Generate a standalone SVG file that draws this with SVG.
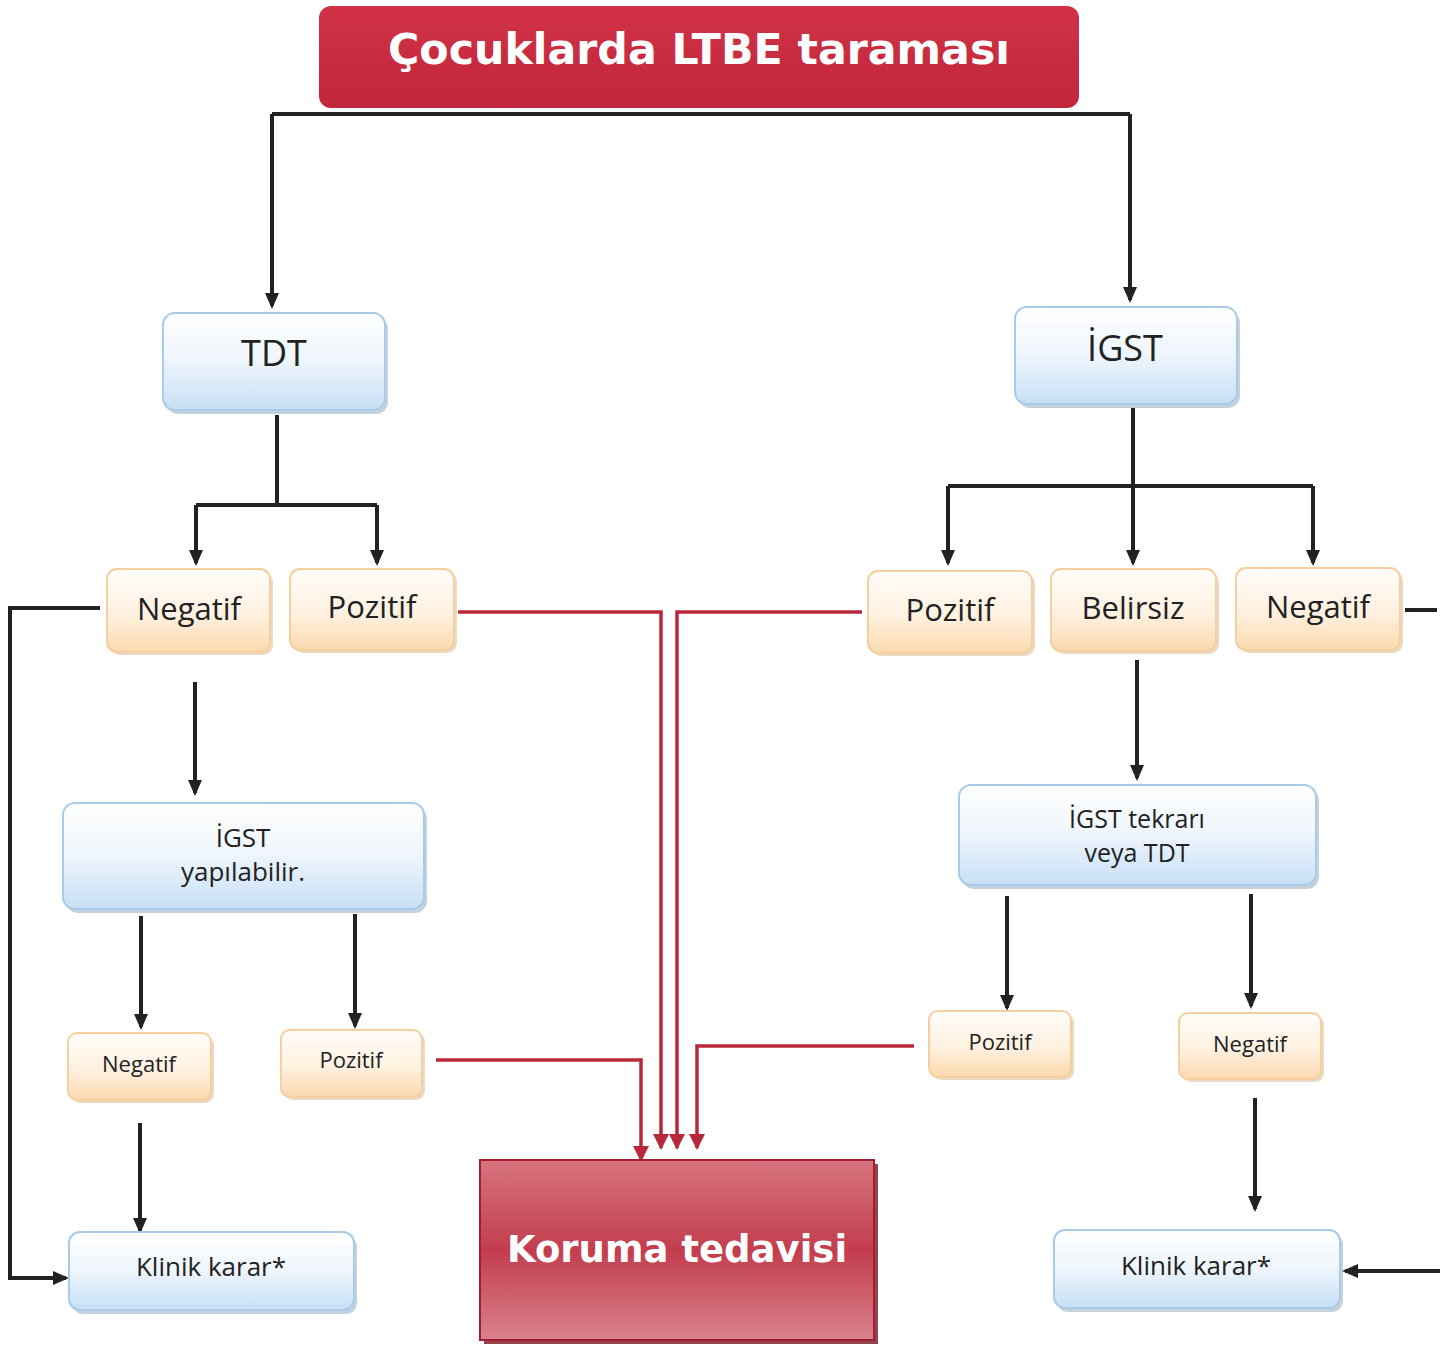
<svg xmlns="http://www.w3.org/2000/svg" width="1446" height="1348" viewBox="0 0 1446 1348">
<defs>
<linearGradient id="gBlue" x1="0" y1="0" x2="0" y2="1">
<stop offset="0" stop-color="#ffffff"/><stop offset="0.5" stop-color="#eef5fc"/><stop offset="1" stop-color="#c6dff5"/>
</linearGradient>
<linearGradient id="gOr" x1="0" y1="0" x2="0" y2="1">
<stop offset="0" stop-color="#fffdf9"/><stop offset="0.55" stop-color="#fff1e0"/><stop offset="1" stop-color="#fbd9ae"/>
</linearGradient>
<linearGradient id="gTitle" x1="0" y1="0" x2="0" y2="1">
<stop offset="0" stop-color="#d13247"/><stop offset="1" stop-color="#c1263a"/>
</linearGradient>
<linearGradient id="gKor" x1="0" y1="0" x2="0" y2="1">
<stop offset="0" stop-color="#d7747f"/><stop offset="0.5" stop-color="#c33d4e"/><stop offset="1" stop-color="#d9828c"/>
</linearGradient>
<marker id="ab" markerWidth="16" markerHeight="16" refX="13" refY="8" orient="auto" markerUnits="userSpaceOnUse" viewBox="0 0 16 16">
<path d="M0,1 L16,8 L0,15 z" fill="#222"/>
</marker>
<marker id="ar" markerWidth="16" markerHeight="16" refX="14" refY="8" orient="auto" markerUnits="userSpaceOnUse" viewBox="0 0 16 16">
<path d="M0,0 L16,8 L0,16 z" fill="#b8283a"/>
</marker>
<style>
.blue{fill:url(#gBlue);stroke:#a9cbea;stroke-width:2}
.or{fill:url(#gOr);stroke:#f5cf9f;stroke-width:2}
.sh{fill:#9fb3c6;opacity:0.6}
.sho{fill:#d8b48a;opacity:0.5}
.t{font-family:"Open Sans","Noto Sans","DejaVu Sans",sans-serif;fill:#222;text-anchor:middle}
.w{font-family:"DejaVu Sans",Verdana,sans-serif;font-weight:bold;fill:#fff;text-anchor:middle}
.bl{fill:none;stroke:#222;stroke-width:4}
.rd{fill:none;stroke:#b8283a;stroke-width:3.5}
</style>
</defs>
<rect width="1446" height="1348" fill="#ffffff"/>

<g id="connectors">
<path class="bl" d="M272,114 H1130"/>
<path class="bl" d="M272,114 V306" marker-end="url(#ab)"/>
<path class="bl" d="M1130,114 V300" marker-end="url(#ab)"/>
<path class="bl" d="M277,415 V505"/>
<path class="bl" d="M196,505 H377"/>
<path class="bl" d="M196,505 V563" marker-end="url(#ab)"/>
<path class="bl" d="M377,505 V563" marker-end="url(#ab)"/>
<path class="bl" d="M1133,408 V563" marker-end="url(#ab)"/>
<path class="bl" d="M948,486 H1313"/>
<path class="bl" d="M948,486 V563" marker-end="url(#ab)"/>
<path class="bl" d="M1313,486 V563" marker-end="url(#ab)"/>
<path class="bl" d="M1405,610 H1437"/>
<path class="bl" d="M100,608 H10 V1278 H66" marker-end="url(#ab)"/>
<path class="bl" d="M195,682 V793" marker-end="url(#ab)"/>
<path class="bl" d="M141,916 V1027" marker-end="url(#ab)"/>
<path class="bl" d="M355,914 V1026" marker-end="url(#ab)"/>
<path class="bl" d="M140,1123 V1231" marker-end="url(#ab)"/>
<path class="bl" d="M1137,660 V778" marker-end="url(#ab)"/>
<path class="bl" d="M1007,896 V1008" marker-end="url(#ab)"/>
<path class="bl" d="M1251,894 V1006" marker-end="url(#ab)"/>
<path class="bl" d="M1255,1098 V1209" marker-end="url(#ab)"/>
<path class="bl" d="M1440,1271 H1345" marker-end="url(#ab)"/>
<path class="rd" d="M458,612 H661 V1148" marker-end="url(#ar)"/>
<path class="rd" d="M862,612 H677 V1148" marker-end="url(#ar)"/>
<path class="rd" d="M436,1060 H641 V1160" marker-end="url(#ar)"/>
<path class="rd" d="M914,1046 H697 V1148" marker-end="url(#ar)"/>
</g>

<g id="title">
<rect x="319" y="6" width="760" height="102" rx="12" fill="url(#gTitle)"/>
<text class="w" x="699" y="64" font-size="42" textLength="622" lengthAdjust="spacingAndGlyphs">Çocuklarda LTBE taraması</text>
</g>

<g id="tdt">
<rect class="sh" x="166" y="317" width="222" height="97" rx="12"/>
<rect class="blue" x="163" y="313" width="222" height="97" rx="12"/>
<text class="t" x="274" y="366" font-size="36">TDT</text>
</g>

<g id="igst">
<rect class="sh" x="1018" y="311" width="222" height="97" rx="12"/>
<rect class="blue" x="1015" y="307" width="222" height="97" rx="12"/>
<text class="t" x="1125" y="361" font-size="36">İGST</text>
</g>

<g id="neg1">
<rect class="sho" x="110" y="572" width="163" height="83" rx="10"/>
<rect class="or" x="107" y="569" width="163" height="83" rx="10"/>
<text class="t" x="189" y="620" font-size="31">Negatif</text>
</g>
<g id="poz1">
<rect class="sho" x="293" y="572" width="164" height="81" rx="10"/>
<rect class="or" x="290" y="569" width="164" height="81" rx="10"/>
<text class="t" x="372" y="618" font-size="31">Pozitif</text>
</g>
<g id="poz2">
<rect class="sho" x="871" y="574" width="164" height="82" rx="10"/>
<rect class="or" x="868" y="571" width="164" height="82" rx="10"/>
<text class="t" x="950" y="621" font-size="31">Pozitif</text>
</g>
<g id="bel">
<rect class="sho" x="1054" y="572" width="165" height="82" rx="10"/>
<rect class="or" x="1051" y="569" width="165" height="82" rx="10"/>
<text class="t" x="1133" y="619" font-size="31">Belirsiz</text>
</g>
<g id="neg2">
<rect class="sho" x="1239" y="571" width="164" height="82" rx="10"/>
<rect class="or" x="1236" y="568" width="164" height="82" rx="10"/>
<text class="t" x="1318" y="618" font-size="31">Negatif</text>
</g>

<g id="igstyap">
<rect class="sh" x="66" y="807" width="361" height="106" rx="12"/>
<rect class="blue" x="63" y="803" width="361" height="106" rx="12"/>
<text class="t" x="243" y="847" font-size="26">İGST</text>
<text class="t" x="243" y="881" font-size="26">yapılabilir.</text>
</g>

<g id="neg3">
<rect class="sho" x="71" y="1036" width="143" height="67" rx="9"/>
<rect class="or" x="68" y="1033" width="143" height="67" rx="9"/>
<text class="t" x="139" y="1072" font-size="22">Negatif</text>
</g>
<g id="poz3">
<rect class="sho" x="284" y="1033" width="141" height="67" rx="9"/>
<rect class="or" x="281" y="1030" width="141" height="67" rx="9"/>
<text class="t" x="351" y="1068" font-size="22">Pozitif</text>
</g>

<g id="klinik1">
<rect class="sh" x="72" y="1236" width="285" height="78" rx="11"/>
<rect class="blue" x="69" y="1232" width="285" height="78" rx="11"/>
<text class="t" x="211" y="1276" font-size="26">Klinik karar*</text>
</g>

<g id="koruma">
<rect x="484" y="1164" width="394" height="180" fill="#7a1522" opacity="0.8"/>
<rect x="480" y="1160" width="394" height="180" fill="url(#gKor)" stroke="#a01f30" stroke-width="2"/>
<text class="w" x="677" y="1262" font-size="37">Koruma tedavisi</text>
</g>

<g id="igsttek">
<rect class="sh" x="962" y="789" width="357" height="100" rx="12"/>
<rect class="blue" x="959" y="785" width="357" height="100" rx="12"/>
<text class="t" x="1137" y="828" font-size="25">İGST tekrarı</text>
<text class="t" x="1137" y="862" font-size="25">veya TDT</text>
</g>

<g id="poz4">
<rect class="sho" x="932" y="1014" width="142" height="66" rx="9"/>
<rect class="or" x="929" y="1011" width="142" height="66" rx="9"/>
<text class="t" x="1000" y="1050" font-size="22">Pozitif</text>
</g>
<g id="neg4">
<rect class="sho" x="1182" y="1016" width="142" height="66" rx="9"/>
<rect class="or" x="1179" y="1013" width="142" height="66" rx="9"/>
<text class="t" x="1250" y="1052" font-size="22">Negatif</text>
</g>

<g id="klinik2">
<rect class="sh" x="1057" y="1234" width="286" height="78" rx="11"/>
<rect class="blue" x="1054" y="1230" width="286" height="78" rx="11"/>
<text class="t" x="1196" y="1275" font-size="26">Klinik karar*</text>
</g>
</svg>
